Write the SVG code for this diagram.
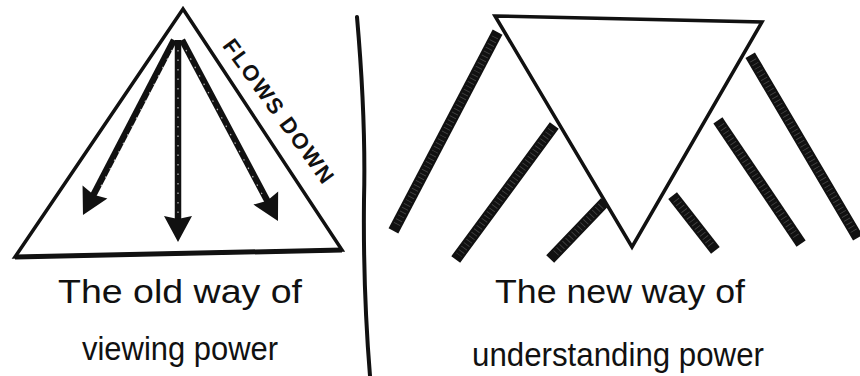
<svg xmlns="http://www.w3.org/2000/svg" width="860" height="376" viewBox="0 0 860 376">
<style>
.tri{fill:none;stroke:#111;stroke-width:3.5;stroke-linejoin:miter;stroke-linecap:round}
.shaft{stroke:#111;stroke-width:6.5;stroke-linecap:butt;fill:none}
.shaftx{stroke:#fff;stroke-width:1.2;stroke-dasharray:1.5 8;fill:none;opacity:0.7}
.bar{stroke:#111;stroke-width:11;stroke-linecap:square;fill:none}
.hatch{stroke:#fff;stroke-width:7;stroke-dasharray:0.8 3.5;fill:none;opacity:0.22}
.cap{font-family:"Liberation Sans",Arial,sans-serif;font-size:33px;fill:#111}
.flow{font-family:"Liberation Sans",Arial,sans-serif;font-size:22px;font-weight:bold;fill:#111}
</style>
<defs>
<marker id="head" viewBox="0 0 26 28" refX="6" refY="14" markerWidth="26" markerHeight="28" markerUnits="userSpaceOnUse" orient="auto" overflow="visible">
<path d="M0,0 L26,14 L0,28 L3,14 z" fill="#111"/>
</marker>
</defs>
<rect width="860" height="376" fill="#fff"/>

<g id="old-pyramid">
<path class="tri" d="M183,9 L15,257 L342,250 Z"/>
<path d="M15,257 L342,250" stroke="#111" stroke-width="5" fill="none"/>
</g>

<g id="connectors">
<line class="shaft" x1="174" y1="40" x2="92.2" y2="197.3" marker-end="url(#head)"/>
<line class="shaftx" x1="172" y1="50" x2="98" y2="192"/>
<line class="shaft" x1="178" y1="40" x2="178" y2="222" marker-end="url(#head)"/>
<line class="shaftx" x1="178" y1="50" x2="178" y2="216"/>
<line class="shaft" x1="182" y1="40" x2="268.6" y2="203.3" marker-end="url(#head)"/>
<line class="shaftx" x1="186" y1="50" x2="262" y2="194"/>
</g>

<g id="flows-down-label">
<text class="flow" x="0" y="0" transform="translate(277,112) rotate(54)" text-anchor="middle" dominant-baseline="middle" textLength="172" lengthAdjust="spacing">FLOWS DOWN</text>
</g>

<g id="divider">
<path d="M357,17 Q366,120 364,200 Q363,290 370,376" stroke="#111" stroke-width="4" fill="none" stroke-linecap="round"/>
</g>

<g id="new-pyramid">
<path class="tri" d="M495,16 L762,22 L632,247 Z"/>
</g>

<g id="bars">
<line class="bar" x1="495" y1="37" x2="396" y2="226"/>
<line class="hatch" x1="495" y1="37" x2="396" y2="226"/>
<line class="bar" x1="551" y1="130" x2="459" y2="255"/>
<line class="hatch" x1="551" y1="130" x2="459" y2="255"/>
<line class="bar" x1="601" y1="206" x2="554" y2="255"/>
<line class="hatch" x1="601" y1="206" x2="554" y2="255"/>
<line class="bar" x1="676" y1="200" x2="712" y2="246"/>
<line class="hatch" x1="676" y1="200" x2="712" y2="246"/>
<line class="bar" x1="721" y1="125" x2="798" y2="239"/>
<line class="hatch" x1="721" y1="125" x2="798" y2="239"/>
<line class="bar" x1="753" y1="60" x2="855" y2="233"/>
<line class="hatch" x1="753" y1="60" x2="855" y2="233"/>
</g>

<g id="caption-old">
<text class="cap" x="180" y="303" text-anchor="middle" textLength="244" lengthAdjust="spacingAndGlyphs">The old way of</text>
<text class="cap" x="180" y="360" text-anchor="middle" textLength="196" lengthAdjust="spacingAndGlyphs">viewing power</text>
</g>

<g id="caption-new">
<text class="cap" x="620" y="303" text-anchor="middle" textLength="250" lengthAdjust="spacingAndGlyphs">The new way of</text>
<text class="cap" x="618" y="366" text-anchor="middle" textLength="292" lengthAdjust="spacingAndGlyphs">understanding power</text>
</g>
</svg>
